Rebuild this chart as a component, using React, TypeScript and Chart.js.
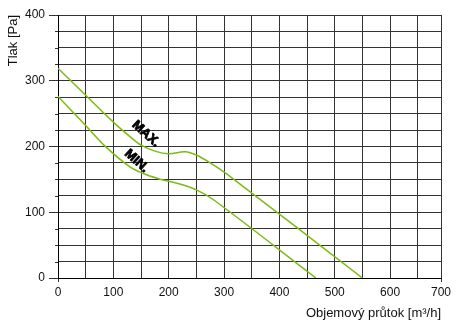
import React, { useEffect, useRef } from 'react';
import { Chart, registerables } from 'chart.js';

Chart.register(...registerables);

// Fan curve data (flow in m3/h, pressure in Pa)
const maxFlow = [0, 50, 100, 130, 150, 175, 200, 230, 250, 275, 310, 550];
const maxPressure = [319, 278, 237, 215, 202, 193, 189, 192, 187, 175, 155, 0];
const minFlow = [0, 50, 87, 130, 160, 190, 220, 250, 281, 466];
const minPressure = [276, 232, 199, 169, 157, 149, 143, 134, 119, 0];

// Axis ticks
const xTickValues = [0, 50, 100, 150, 200, 250, 300, 350, 400, 450, 500, 550, 600, 650, 692];
const xTickLabels = ['0', '', '100', '', '200', '', '300', '', '400', '', '500', '', '600', '', '700'];
const yTickValues = [0, 25, 50, 75, 100, 125, 150, 175, 200, 225, 250, 275, 300, 325, 350, 375, 400];
const yTickLabels = ['0', '', '', '', '100', '', '', '', '200', '', '', '', '300', '', '', '', '400'];

// Curve name annotations (placed in data coordinates)
const curveNames = ['MAX.', 'MIN.'];
const curveNameFlow = [159, 142];
const curveNamePressure = [219, 178];

const FONT = '"Liberation Sans", Arial, sans-serif';
const LINE_COLOR = '#7cbb12';
const GRID_COLOR = '#333';

const labelsPlugin = {
  id: 'curveLabels',
  afterDatasetsDraw(chart: any) {
    const { ctx, scales } = chart;
    ctx.save();
    ctx.fillStyle = '#000';
    ctx.strokeStyle = '#000';
    ctx.lineWidth = 0.8;
    ctx.lineJoin = 'round';
    ctx.font = `bold 13px ${FONT}`;
    ctx.textAlign = 'center';
    ctx.textBaseline = 'middle';
    curveNames.forEach((name, i) => {
      const px = scales.x.getPixelForValue(curveNameFlow[i]);
      const py = scales.y.getPixelForValue(curveNamePressure[i]);
      ctx.save();
      ctx.translate(px, py);
      ctx.rotate((42 * Math.PI) / 180);
      ctx.fillText(name, 0, 0);
      ctx.strokeText(name, 0, 0);
      ctx.restore();
    });
    // minor tick marks on the y axis
    const y = scales.y;
    ctx.strokeStyle = GRID_COLOR;
    ctx.lineWidth = 1;
    yTickValues.forEach((v, i) => {
      if (yTickLabels[i] !== '') return;
      const py = Math.round(y.getPixelForValue(v)) + 0.5;
      ctx.beginPath();
      ctx.moveTo(y.right - 3, py);
      ctx.lineTo(y.right, py);
      ctx.stroke();
    });
    ctx.restore();
  },
};

export default function App() {
  const canvasRef = useRef<HTMLCanvasElement | null>(null);

  useEffect(() => {
    const canvas = canvasRef.current;
    if (!canvas) return;
    const chart = new Chart(canvas, {
      type: 'line',
      data: {
        datasets: [
          {
            label: 'MAX.',
            data: maxFlow.map((x, i) => ({ x, y: maxPressure[i] })),
            borderColor: LINE_COLOR,
            borderWidth: 1.5,
            pointRadius: 0,
            tension: 0.35,
            fill: false,
          },
          {
            label: 'MIN.',
            data: minFlow.map((x, i) => ({ x, y: minPressure[i] })),
            borderColor: LINE_COLOR,
            borderWidth: 1.5,
            pointRadius: 0,
            tension: 0.35,
            fill: false,
          },
        ],
      },
      options: {
        responsive: false,
        animation: false,
        events: [],
        layout: { padding: { top: 15, right: 16, bottom: 0, left: 0 } },
        plugins: {
          legend: { display: false },
          tooltip: { enabled: false },
        },
        scales: {
          x: {
            type: 'linear',
            min: 0,
            max: xTickValues[xTickValues.length - 1],
            afterBuildTicks: (scale: any) => {
              scale.ticks = xTickValues.map((v) => ({ value: v }));
            },
            afterFit: (scale: any) => {
              scale.height = 44;
            },
            ticks: {
              autoSkip: false,
              maxRotation: 0,
              padding: 3,
              color: '#111',
              font: { family: FONT, size: 12 },
              callback: (_v: any, i: number) => xTickLabels[i],
            },
            grid: {
              color: GRID_COLOR,
              lineWidth: 1,
              tickLength: 4,
              tickColor: (ctx: any) =>
                ctx.index === 0 || ctx.index === xTickValues.length - 1 ? GRID_COLOR : 'rgba(0,0,0,0)',
            },
            border: { display: true, color: '#000', width: 1 },
            title: {
              display: true,
              text: 'Objemový průtok [m³/h]',
              align: 'end',
              color: '#111',
              font: { family: FONT, size: 13 },
              padding: { top: 0, bottom: 1 },
            },
          },
          y: {
            type: 'linear',
            min: 0,
            max: 400,
            afterBuildTicks: (scale: any) => {
              scale.ticks = yTickValues.map((v) => ({ value: v }));
            },
            afterFit: (scale: any) => {
              scale.width = 58;
            },
            ticks: {
              autoSkip: false,
              padding: 4,
              color: '#111',
              font: { family: FONT, size: 12 },
              callback: (_v: any, i: number) => yTickLabels[i],
            },
            grid: {
              color: GRID_COLOR,
              lineWidth: 1,
              tickLength: 9,
              tickColor: (ctx: any) =>
                yTickLabels[ctx.index] !== '' ? GRID_COLOR : 'rgba(0,0,0,0)',
            },
            border: { display: true, color: '#000', width: 1 },
            title: {
              display: true,
              text: 'Tlak [Pa]',
              align: 'end',
              color: '#111',
              font: { family: FONT, size: 13 },
              padding: { top: 5.5, bottom: 0 },
            },
          },
        },
      },
      plugins: [labelsPlugin],
    } as any);
    return () => chart.destroy();
  }, []);

  return (
    <div style={{ position: 'fixed', left: 0, top: 0, width: 457, height: 322, background: '#fff' }}>
      <canvas ref={canvasRef} width={457} height={322} style={{ display: 'block', width: 457, height: 322 }} />
    </div>
  );
}
